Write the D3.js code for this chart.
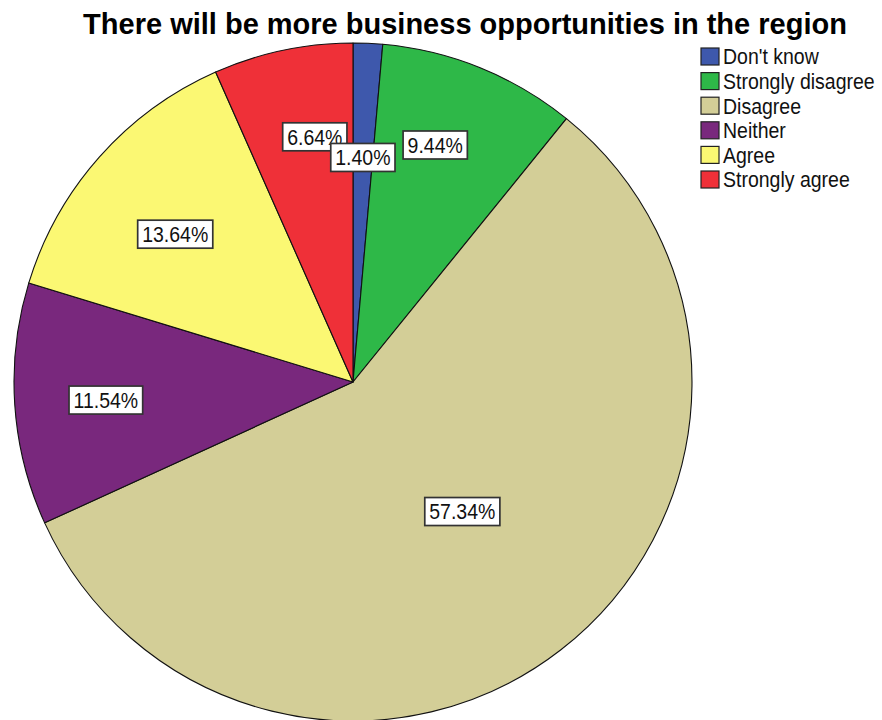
<!DOCTYPE html>
<html>
<head>
<meta charset="utf-8">
<script src="https://cdn.jsdelivr.net/npm/d3@7"></script>
<style>
  html, body { margin: 0; padding: 0; background: #fff; }
  svg { display: block; }
</style>
</head>
<body>
<svg id="chart" width="882" height="720"></svg>
<script>
// Survey responses, in drawing order (clockwise from 12 o'clock)
const categories = ["Don't know", "Strongly disagree", "Disagree", "Neither", "Agree", "Strongly agree"];
const percents = [1.40, 9.44, 57.34, 11.54, 13.64, 6.64];
const colors = ["#3e58ac", "#2eb848", "#d3ce97", "#79287d", "#fbf873", "#ef3038"];
const title = "There will be more business opportunities in the region";

// label placement: distance from the centre (share of radius) and a small
// angular nudge (degrees) away from the slice's mid-angle to avoid overlaps
const labelRadiusShare = [0.663, 0.740, 0.500, 0.731, 0.682, 0.732];
const labelAngleNudge = [0, -2.9, -2.4, -0.4, -1.8, 3.1];

const svg = d3.select("#chart");
const cx = 353, cy = 382, R = 339;
const font = "Arial, 'Liberation Sans', sans-serif";
const stretch = "scale(1,1.12)";

const data = categories.map((c, i) => ({
  name: c, value: percents[i], color: colors[i],
  lr: labelRadiusShare[i], nudge: labelAngleNudge[i]
}));

const pie = d3.pie().value(d => d.value).sort(null);
const arc = d3.arc().innerRadius(0).outerRadius(R);
const arcs = pie(data);

const g = svg.append("g").attr("transform", `translate(${cx},${cy})`);

g.selectAll("path.slice")
  .data(arcs)
  .join("path")
  .attr("class", "slice")
  .attr("d", arc)
  .attr("fill", d => d.data.color)
  .attr("stroke", "#111")
  .attr("stroke-width", 1.1)
  .attr("stroke-linejoin", "round");

// value labels in boxed tags
const fmt = d3.format(".2f");
const labels = g.selectAll("g.lbl")
  .data(arcs)
  .join("g")
  .attr("class", "lbl")
  .attr("transform", d => {
    const a = (d.startAngle + d.endAngle) / 2 + d.data.nudge * Math.PI / 180;
    const r = R * d.data.lr;
    return `translate(${r * Math.sin(a)},${-r * Math.cos(a)})`;
  });

labels.each(function(d) {
  const sel = d3.select(this);
  const t = sel.append("text")
    .attr("text-anchor", "middle")
    .attr("dy", "0.36em")
    .attr("transform", stretch)
    .attr("font-family", font)
    .attr("font-size", 19.5)
    .attr("fill", "#111")
    .text(fmt(d.data.value) + "%");
  const bb = t.node().getBBox();
  sel.insert("rect", "text")
    .attr("x", bb.x - 4.5)
    .attr("y", -14)
    .attr("width", bb.width + 9)
    .attr("height", 28)
    .attr("fill", "#fff")
    .attr("stroke", "#333")
    .attr("stroke-width", 1.7);
});

// the thin first slice's tag sits on top of its neighbour's
labels.filter((d, i) => i === 0).raise();

// title
svg.append("text")
  .attr("x", 465)
  .attr("y", 34)
  .attr("text-anchor", "middle")
  .attr("font-family", font)
  .attr("font-weight", "bold")
  .attr("font-size", 29)
  .attr("fill", "#000")
  .text(title);

// legend
const legend = svg.append("g").attr("transform", "translate(701,48)");
const rowH = 24.6;
const items = legend.selectAll("g")
  .data(data)
  .join("g")
  .attr("transform", (d, i) => `translate(0,${i * rowH})`);
items.append("rect")
  .attr("width", 18)
  .attr("height", 17)
  .attr("fill", d => d.color)
  .attr("stroke", "#222")
  .attr("stroke-width", 1.2);
items.append("g")
  .attr("transform", "translate(22,8.5)")
  .append("text")
  .attr("dy", "0.36em")
  .attr("transform", stretch)
  .attr("font-family", font)
  .attr("font-size", 19.5)
  .attr("fill", "#111")
  .text(d => d.name);
</script>
</body>
</html>
